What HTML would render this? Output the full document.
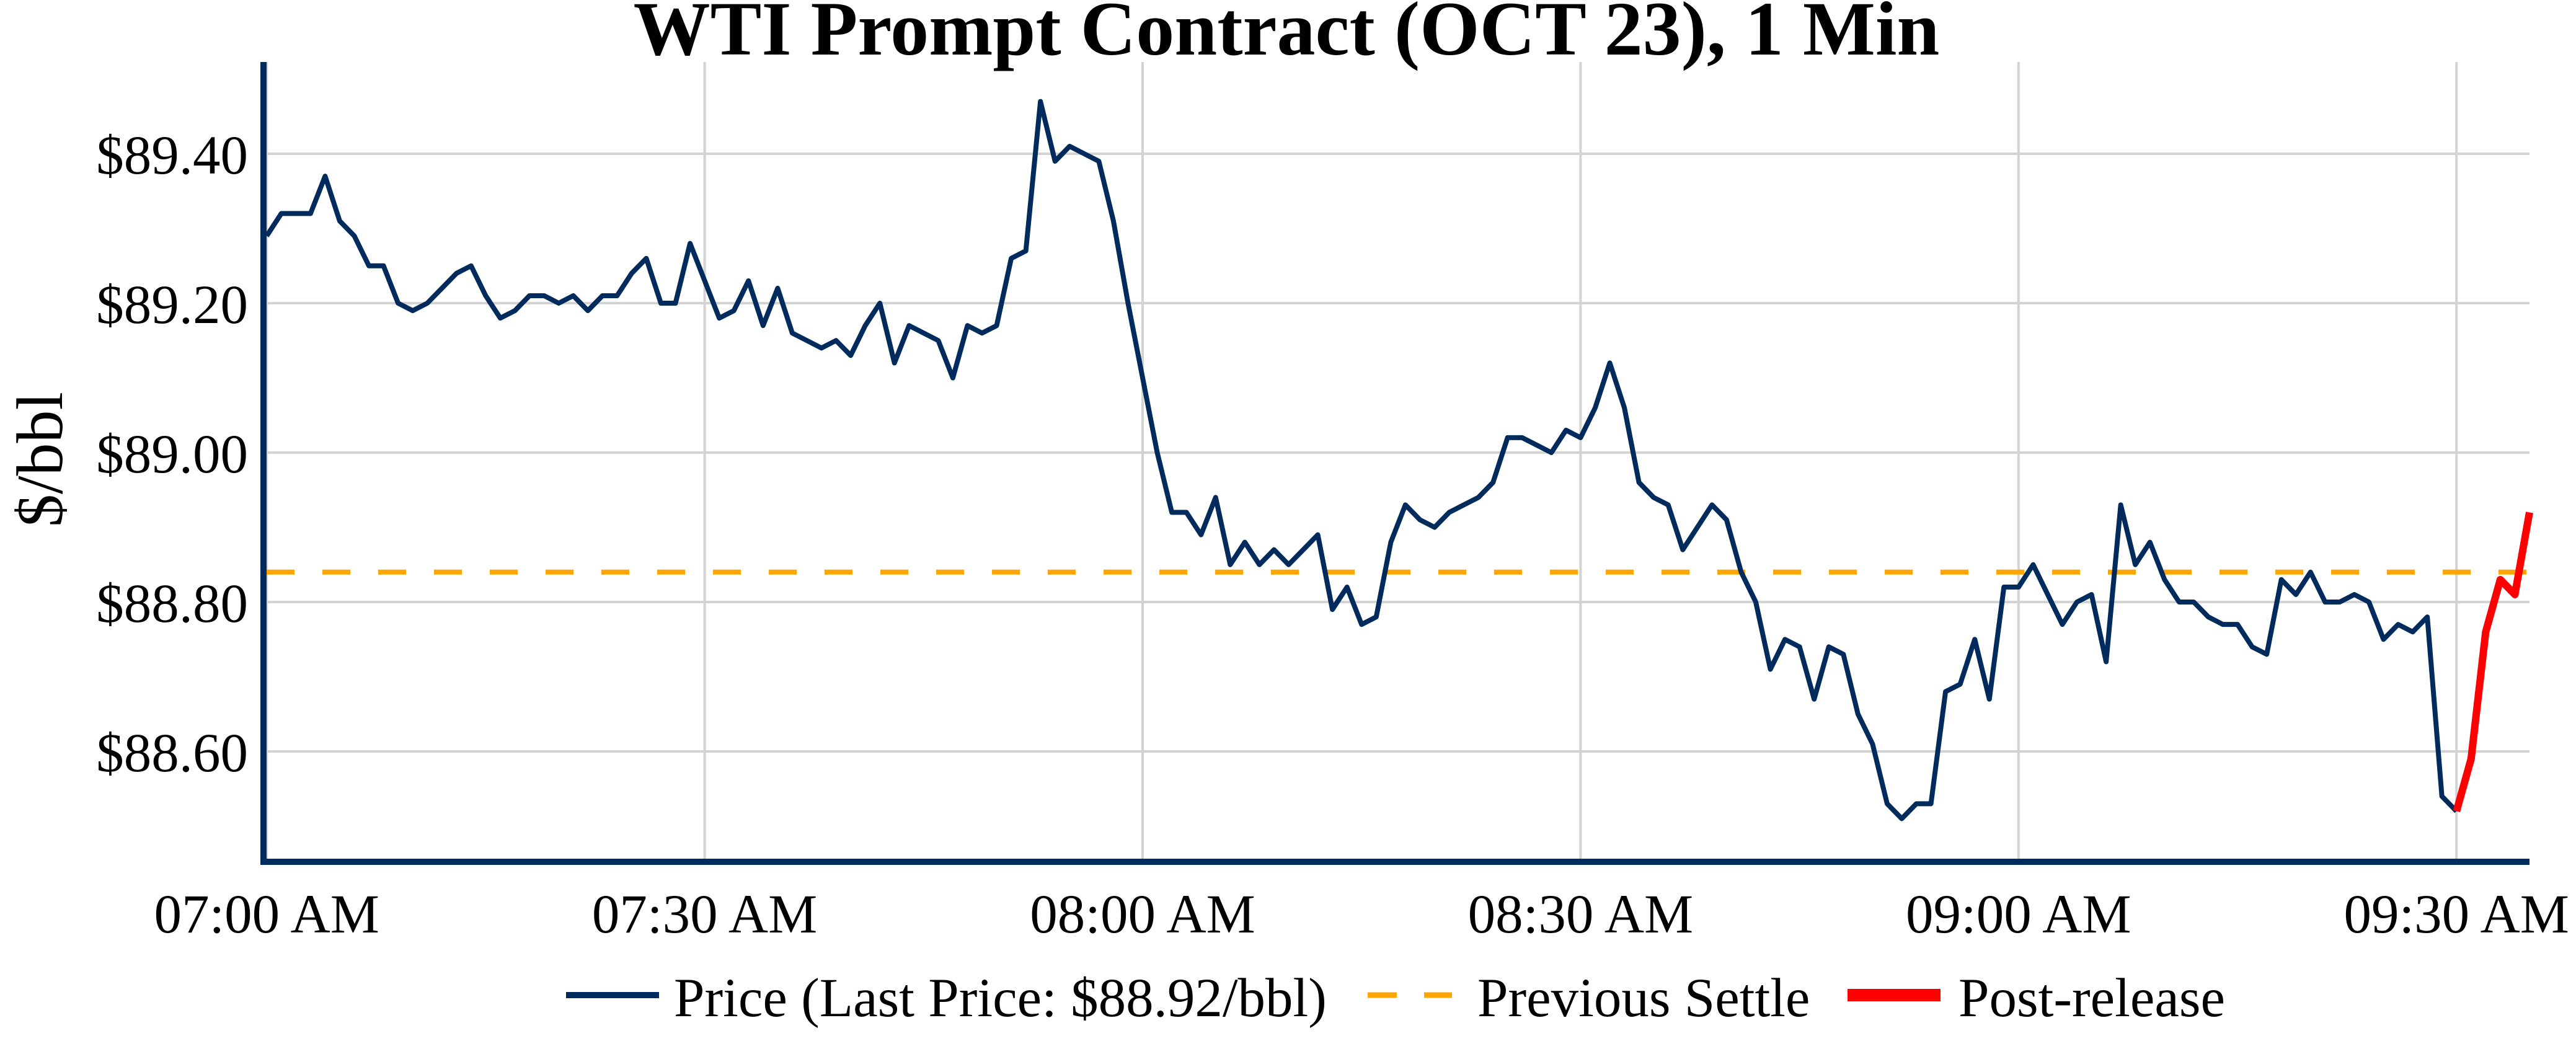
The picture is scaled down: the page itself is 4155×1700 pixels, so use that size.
<!DOCTYPE html>
<html>
<head>
<meta charset="utf-8">
<style>
  html, body { margin:0; padding:0; background:#ffffff; }
  svg { display:block; }
  text { font-family: "Liberation Serif", "Times New Roman", serif; fill:#000; }
</style>
</head>
<body>
<svg width="4155" height="1700" viewBox="0 0 4155 1700" xmlns="http://www.w3.org/2000/svg">
  <rect x="0" y="0" width="4155" height="1700" fill="#ffffff"/>

  <!-- Title -->
  <text x="2075" y="88" font-size="124" font-weight="bold" text-anchor="middle">WTI Prompt Contract (OCT 23), 1 Min</text>

  <!-- Gridlines horizontal -->
  <g stroke="#d3d3d3" stroke-width="4">
    <line x1="424" y1="248" x2="4080" y2="248"/>
    <line x1="424" y1="489" x2="4080" y2="489"/>
    <line x1="424" y1="730" x2="4080" y2="730"/>
    <line x1="424" y1="971" x2="4080" y2="971"/>
    <line x1="424" y1="1212" x2="4080" y2="1212"/>
  </g>
  <!-- Gridlines vertical -->
  <g stroke="#d3d3d3" stroke-width="4">
    <line x1="430.2" y1="100" x2="430.2" y2="1390"/>
    <line x1="1136.6" y1="100" x2="1136.6" y2="1390"/>
    <line x1="1843.0" y1="100" x2="1843.0" y2="1390"/>
    <line x1="2549.4" y1="100" x2="2549.4" y2="1390"/>
    <line x1="3255.8" y1="100" x2="3255.8" y2="1390"/>
    <line x1="3962.2" y1="100" x2="3962.2" y2="1390"/>
  </g>

  <!-- Previous settle -->
  <line x1="430" y1="922.8" x2="4080" y2="922.8" stroke="#FFA500" stroke-width="8" stroke-dasharray="45 45"/>

  <!-- Price series -->
  <g transform="translate(430.2,971) scale(23.547,-12.05)">
    <polyline fill="none" stroke="#002b5c" stroke-width="8" vector-effect="non-scaling-stroke" stroke-linejoin="round" stroke-linecap="butt"
      points="0,49 1,52 2,52 3,52 4,57 5,51 6,49 7,45 8,45 9,40 10,39 11,40 12,42 13,44 14,45 15,41 16,38 17,39 18,41 19,41 20,40 21,41 22,39 23,41 24,41 25,44 26,46 27,40 28,40 29,48 30,43 31,38 32,39 33,43 34,37 35,42 36,36 37,35 38,34 39,35 40,33 41,37 42,40 43,32 44,37 45,36 46,35 47,30 48,37 49,36 50,37 51,46 52,47 53,67 54,59 55,61 56,60 57,59 58,51 59,40 60,30 61,20 62,12 63,12 64,9 65,14 66,5 67,8 68,5 69,7 70,5 71,7 72,9 73,-1 74,2 75,-3 76,-2 77,8 78,13 79,11 80,10 81,12 82,13 83,14 84,16 85,22 86,22 87,21 88,20 89,23 90,22 91,26 92,32 93,26 94,16 95,14 96,13 97,7 98,10 99,13 100,11 101,4 102,0 103,-9 104,-5 105,-6 106,-13 107,-6 108,-7 109,-15 110,-19 111,-27 112,-29 113,-27 114,-27 115,-12 116,-11 117,-5 118,-13 119,2 120,2 121,5 122,1 123,-3 124,0 125,1 126,-8 127,13 128,5 129,8 130,3 131,0 132,0 133,-2 134,-3 135,-3 136,-6 137,-7 138,3 139,1 140,4 141,0 142,0 143,1 144,0 145,-5 146,-3 147,-4 148,-2 149,-26 150,-28"/>
    <polyline fill="none" stroke="#ff0000" stroke-width="12" vector-effect="non-scaling-stroke" stroke-linejoin="round" stroke-linecap="butt"
      points="150,-28 151,-21 152,-4 153,3 154,1 155,12"/>
  </g>

  <!-- Axes -->
  <line x1="425" y1="100" x2="425" y2="1395" stroke="#002b5c" stroke-width="10"/>
  <line x1="420" y1="1390" x2="4080" y2="1390" stroke="#002b5c" stroke-width="10"/>

  <!-- Y tick labels -->
  <g font-size="89" text-anchor="end">
    <text x="400" y="280">$89.40</text>
    <text x="400" y="521">$89.20</text>
    <text x="400" y="762">$89.00</text>
    <text x="400" y="1003">$88.80</text>
    <text x="400" y="1244">$88.60</text>
  </g>

  <!-- X tick labels -->
  <g font-size="89" text-anchor="middle">
    <text x="430.2" y="1504">07:00 AM</text>
    <text x="1136.6" y="1504">07:30 AM</text>
    <text x="1843.0" y="1504">08:00 AM</text>
    <text x="2549.4" y="1504">08:30 AM</text>
    <text x="3255.8" y="1504">09:00 AM</text>
    <text x="3962.2" y="1504">09:30 AM</text>
  </g>

  <!-- Y axis title -->
  <text transform="translate(100,741) rotate(-90)" font-size="106" text-anchor="middle">$/bbl</text>

  <!-- Legend -->
  <line x1="913" y1="1605" x2="1063" y2="1605" stroke="#002b5c" stroke-width="10"/>
  <text x="1087" y="1639" font-size="89">Price (Last Price: $88.92/bbl)</text>

  <line x1="2206" y1="1605" x2="2253" y2="1605" stroke="#FFA500" stroke-width="9"/>
  <line x1="2297" y1="1605" x2="2342" y2="1605" stroke="#FFA500" stroke-width="9"/>
  <text x="2383" y="1639" font-size="89">Previous Settle</text>

  <line x1="2980" y1="1605" x2="3130" y2="1605" stroke="#ff0000" stroke-width="20"/>
  <text x="3159" y="1639" font-size="89">Post-release</text>
</svg>
</body>
</html>
